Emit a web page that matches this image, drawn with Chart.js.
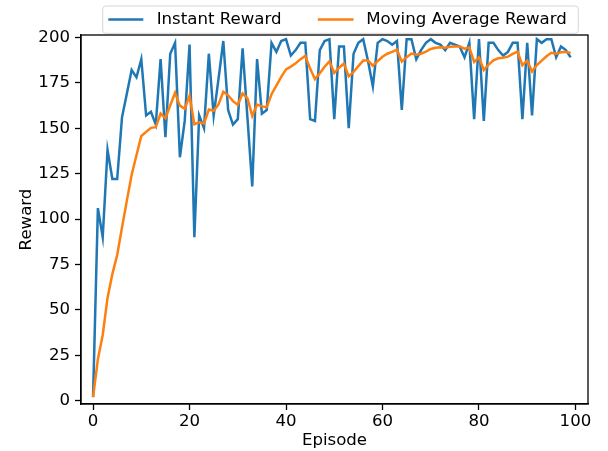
<!DOCTYPE html>
<html>
<head>
<meta charset="utf-8">
<script src="https://cdn.jsdelivr.net/npm/chart.js@4/dist/chart.umd.min.js"></script>
<style>
html,body{margin:0;padding:0;background:#fff;}
#c{display:block;}
</style>
</head>
<body>
<canvas id="c" width="608" height="451"></canvas>
<script>
const episodes = Array.from({length: 100}, (_, i) => i);
const instantReward = [
  2,106,90,138,122,122,156,169,182,178,
  188,157,159,152,188,145,191,197,134,154,
  196,90,157,150,191,157,177,198,160,152,
  155,194,156,118,188,158,160,197,192,198,
  199,190,193,197,197,155,154,193,198,199,
  155,195,195,150,191,197,199,187,173,197,
  199,198,196,198,160,199,199,188,193,197,
  199,197,196,193,197,196,195,189,197,155,
  199,154,197,197,193,190,192,197,197,155,
  197,157,199,197,199,199,189,195,193,189
];
const movingAverageReward = [
  2,22.8,36.2,56.6,69.7,80.2,95.3,110.0,124.4,135.1,
  145.7,148.0,150.2,150.6,158.1,155.5,162.6,169.5,162.4,160.7,
  167.8,152.2,153.2,152.6,160.3,159.6,163.1,170.1,168.1,164.9,
  162.9,169.1,166.5,156.8,163.0,162.0,161.6,168.7,173.4,178.3,
  182.4,183.9,185.7,188.0,189.8,182.8,177.0,180.2,183.8,186.8,
  180.4,183.3,185.6,178.5,181.0,184.2,187.2,187.2,184.4,186.9,
  189.3,191.0,192.0,193.2,186.6,189.1,191.1,190.5,191.0,192.2,
  193.6,194.3,194.6,194.3,194.8,195.0,195.0,193.8,194.4,186.5,
  189.0,182.0,185.0,187.4,188.5,188.8,189.4,190.9,192.1,184.7,
  187.2,181.2,184.8,187.2,189.6,191.5,191.0,191.8,192.0,191.4
];
const xTicks = [0, 20, 40, 60, 80, 100];
const yTicks = [0, 25, 50, 75, 100, 125, 150, 175, 200];
const seriesNames = ['Instant Reward', 'Moving Average Reward'];
const seriesColors = ['#1f77b4', '#ff7f0e'];
const xLabel = 'Episode';
const yLabel = 'Reward';

const FONT = "'DejaVu Sans', sans-serif";
const FS = 16.6;

const framePlugin = {
  id: 'frame',
  afterDatasetsDraw(chart) {
    const {ctx, chartArea: a} = chart;
    ctx.save();
    ctx.strokeStyle = '#000';
    ctx.lineWidth = 1.3;
    ctx.strokeRect(a.left, a.top, a.right - a.left, a.bottom - a.top);
    ctx.restore();
  }
};

const legendPlugin = {
  id: 'mplLegend',
  afterDraw(chart) {
    const ctx = chart.ctx;
    const x0 = 102.7, y0 = 6, x1 = 578.3, y1 = 33.3, r = 3;
    ctx.save();
    ctx.beginPath();
    ctx.moveTo(x0 + r, y0);
    ctx.lineTo(x1 - r, y0);
    ctx.quadraticCurveTo(x1, y0, x1, y0 + r);
    ctx.lineTo(x1, y1 - r);
    ctx.quadraticCurveTo(x1, y1, x1 - r, y1);
    ctx.lineTo(x0 + r, y1);
    ctx.quadraticCurveTo(x0, y1, x0, y1 - r);
    ctx.lineTo(x0, y0 + r);
    ctx.quadraticCurveTo(x0, y0, x0 + r, y0);
    ctx.closePath();
    ctx.fillStyle = 'rgba(255,255,255,0.8)';
    ctx.fill();
    ctx.strokeStyle = '#d6d6d6';
    ctx.lineWidth = 1;
    ctx.stroke();
    const yMid = 19.5;
    const items = [
      {lx0: 108.3, lx1: 143.3, tx: 156.7},
      {lx0: 317.8, lx1: 353.5, tx: 366.3}
    ];
    ctx.font = FS + 'px ' + FONT;
    ctx.textBaseline = 'middle';
    ctx.textAlign = 'left';
    items.forEach((it, i) => {
      ctx.strokeStyle = seriesColors[i];
      ctx.lineWidth = 2.5;
      ctx.beginPath();
      ctx.moveTo(it.lx0, yMid);
      ctx.lineTo(it.lx1, yMid);
      ctx.stroke();
      ctx.fillStyle = '#000';
      ctx.fillText(seriesNames[i], it.tx, yMid + 0.5);
    });
    ctx.restore();
  }
};

new Chart(document.getElementById('c'), {
  type: 'line',
  data: {
    datasets: [
      {
        label: seriesNames[0],
        data: episodes.map((e, i) => ({x: e, y: instantReward[i]})),
        borderColor: seriesColors[0],
        backgroundColor: seriesColors[0],
        borderWidth: 2.5,
        pointRadius: 0,
        tension: 0,
        order: 1
      },
      {
        label: seriesNames[1],
        data: episodes.map((e, i) => ({x: e, y: movingAverageReward[i]})),
        borderColor: seriesColors[1],
        backgroundColor: seriesColors[1],
        borderWidth: 2.5,
        pointRadius: 0,
        tension: 0,
        order: 0
      }
    ]
  },
  options: {
    responsive: false,
    devicePixelRatio: 1,
    animation: false,
    layout: {padding: {top: 35, left: 0, right: 20, bottom: 0}},
    plugins: {legend: {display: false}, tooltip: {enabled: false}},
    scales: {
      x: {
        type: 'linear',
        min: -2.5,
        max: 102.6,
        afterBuildTicks(s) { s.ticks = xTicks.map(v => ({value: v})); },
        afterFit(s) { s.height = 47; },
        grid: {display: true, drawOnChartArea: false, drawTicks: true, tickLength: 6, color: '#000', tickWidth: 1.3},
        border: {display: true, color: '#000', width: 1.3},
        ticks: {color: '#000', font: {family: FONT, size: FS}, padding: 2, maxRotation: 0, autoSkip: false},
        title: {display: true, text: xLabel, color: '#000', font: {family: FONT, size: FS}, padding: {top: 0, bottom: 0}}
      },
      y: {
        type: 'linear',
        min: -1.8,
        max: 201.3,
        afterBuildTicks(s) { s.ticks = yTicks.map(v => ({value: v})); },
        afterFit(s) { s.width = 81; },
        grid: {display: true, drawOnChartArea: false, drawTicks: true, tickLength: 6, color: '#000', tickWidth: 1.3},
        border: {display: true, color: '#000', width: 1.3},
        ticks: {color: '#000', font: {family: FONT, size: FS}, padding: 5, autoSkip: false},
        title: {display: true, text: yLabel, color: '#000', font: {family: FONT, size: FS}, padding: {top: 16.5, bottom: 0}}
      }
    }
  },
  plugins: [framePlugin, legendPlugin]
});
</script>
</body>
</html>
